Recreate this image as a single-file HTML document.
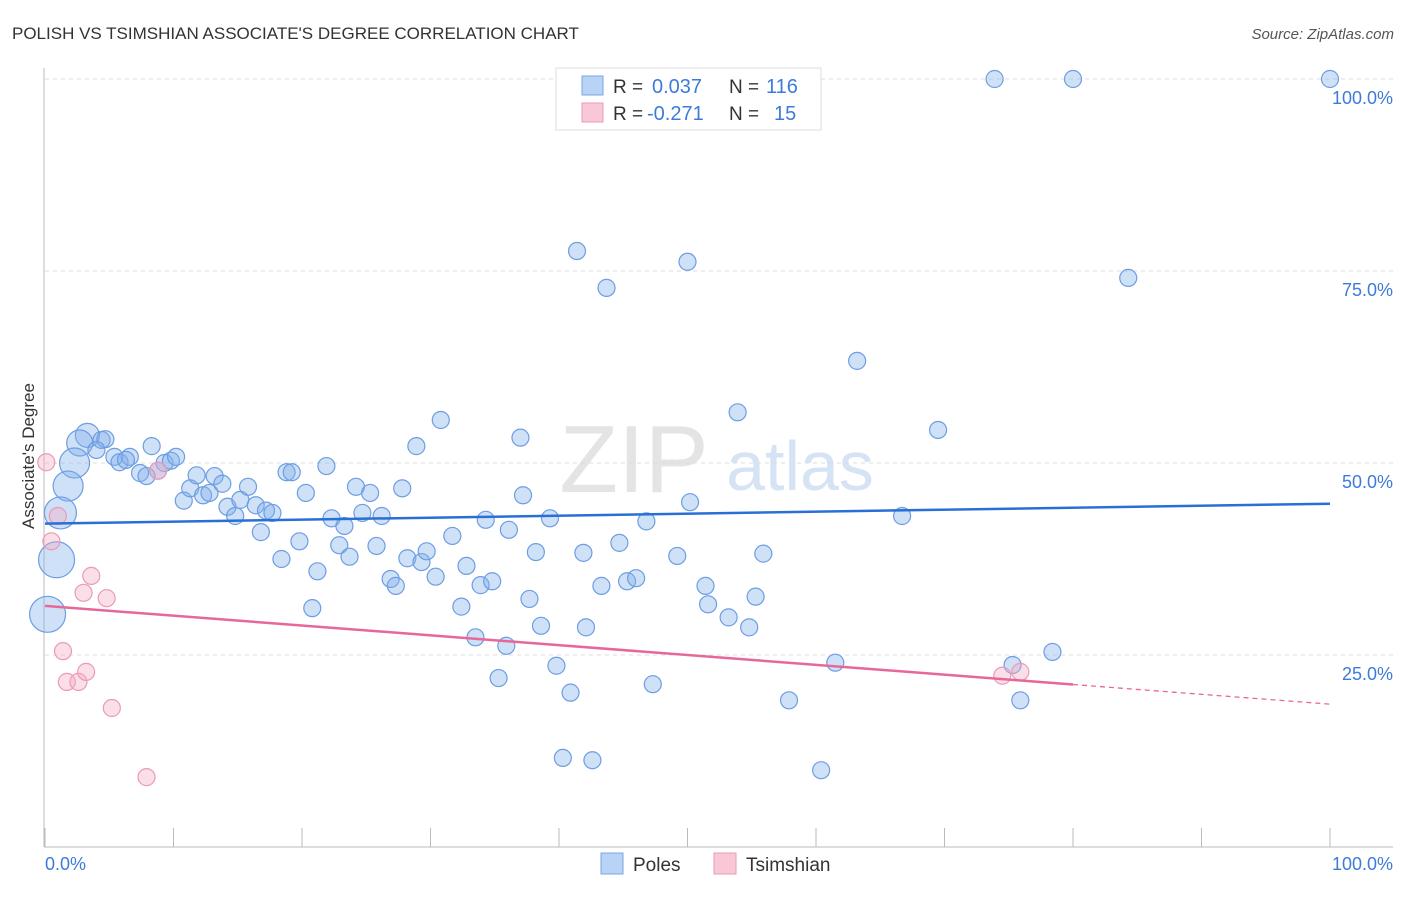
<!DOCTYPE html>
<html><head><meta charset="utf-8"><style>
body{margin:0;background:#fff;font-family:"Liberation Sans",sans-serif;}
svg text{font-family:"Liberation Sans",sans-serif;}
</style></head><body>
<svg id="chart" width="1406" height="892" viewBox="0 0 1406 892" xmlns="http://www.w3.org/2000/svg">
<text x="12" y="39" font-size="17" fill="#333">POLISH VS TSIMSHIAN ASSOCIATE'S DEGREE CORRELATION CHART</text>
<text x="1394" y="39" font-size="15" fill="#555" text-anchor="end" font-style="italic">Source: ZipAtlas.com</text>
<text x="634" y="492" font-size="96" fill="#e4e4e4" font-family="Liberation Serif" text-anchor="middle">ZIP</text>
<text x="800" y="490" font-size="70" fill="#d5e3f5" text-anchor="middle">atlas</text>
<g id="grid"></g><g id="axes"></g><g id="points"></g><g id="trends"></g>
<text transform="translate(34,456) rotate(-90)" font-size="17" fill="#333" text-anchor="middle">Associate's Degree</text>
<text x="45" y="870" font-size="18" fill="#3d7bd9">0.0%</text>
<text x="1393" y="870" font-size="18" fill="#3d7bd9" text-anchor="end">100.0%</text>
<g>
<rect x="556" y="68" width="265" height="62" fill="#fff" stroke="#ddd"/>
<rect x="582" y="76" width="21" height="19" fill="#b8d3f5" stroke="#7aa6e6"/>
<rect x="582" y="103" width="21" height="19" fill="#f9c8d6" stroke="#eb9ab3"/>
<text x="613" y="93" font-size="19" fill="#333">R =</text><text x="652" y="93" font-size="20" fill="#3d7bd9">0.037</text>
<text x="729" y="93" font-size="19" fill="#333">N =</text><text x="766" y="93" font-size="20" fill="#3d7bd9">116</text>
<text x="613" y="120" font-size="19" fill="#333">R =</text><text x="647" y="120" font-size="20" fill="#3d7bd9">-0.271</text>
<text x="729" y="120" font-size="19" fill="#333">N =</text><text x="774" y="120" font-size="20" fill="#3d7bd9">15</text>
</g>
<g>
<rect x="601" y="853" width="22" height="21" fill="#b8d3f5" stroke="#7aa6e6"/>
<text x="633" y="871" font-size="19" fill="#333">Poles</text>
<rect x="714" y="853" width="22" height="21" fill="#f9c8d6" stroke="#eb9ab3"/>
<text x="746" y="871" font-size="19" fill="#333">Tsimshian</text>
</g>
</svg>
<script>
const yTicks=[25,50,75,100];
const yTickLabels=["25.0%","50.0%","75.0%","100.0%"];
const xTicks=[0,10,20,30,40,50,60,70,80,90,100];
const polesX=[3.3,2.7,2.3,1.8,1.2,0.9,0.2,4.4,4.7,4.0,5.4,5.8,6.6,6.3,7.4,7.9,8.3,9.3,9.8,10.2,8.8,10.8,11.3,11.8,12.3,12.8,13.2,13.8,14.2,14.8,15.2,15.8,16.4,16.8,17.2,17.7,18.4,18.8,19.2,20.3,19.8,20.8,21.2,21.9,22.3,22.9,23.3,23.7,24.2,24.7,25.3,25.8,26.2,26.9,27.3,27.8,28.2,28.9,29.3,29.7,30.4,30.8,31.7,32.4,32.8,33.5,33.9,34.3,34.8,35.3,35.9,36.1,37.0,37.2,37.7,38.2,38.6,39.3,39.8,40.3,40.9,41.4,41.9,42.1,42.6,43.3,43.7,44.7,45.3,46.0,46.8,47.3,49.2,50.0,50.2,51.4,51.6,53.2,53.9,54.8,55.3,55.9,57.9,60.4,61.5,63.2,66.7,69.5,73.9,75.3,75.9,78.4,80.0,84.3,100];
const polesY=[53.6,52.6,50.0,47.0,43.5,37.4,30.3,53.0,53.1,51.7,50.8,50.1,50.8,50.4,48.7,48.3,52.2,50.0,50.3,50.8,49.0,45.1,46.7,48.4,45.8,46.1,48.3,47.3,44.3,43.1,45.2,46.9,44.5,41.0,43.8,43.5,37.5,48.8,48.8,46.1,39.8,31.1,35.9,49.6,42.8,39.3,41.8,37.8,46.9,43.5,46.1,39.2,43.1,34.9,34.0,46.7,37.6,52.2,37.1,38.5,35.2,55.6,40.5,31.3,36.6,27.3,34.1,42.6,34.6,22.0,26.2,41.3,53.3,45.8,32.3,38.4,28.8,42.8,23.6,11.6,20.1,77.6,38.3,28.6,11.3,34.0,72.8,39.6,34.6,35.0,42.4,21.2,37.9,76.2,44.9,34.0,31.6,29.9,56.6,28.6,32.6,38.2,19.1,10.0,24.0,63.3,43.1,54.3,100,23.7,19.1,25.4,100,74.1,100];
const polesSize=[12,13,15,15,16,18,18];
const tsimX=[0.1,1.0,0.5,3.6,3.0,4.8,1.4,1.7,2.6,3.2,5.2,7.9,8.8,74.5,75.9];
const tsimY=[50.1,43.1,39.8,35.3,33.1,32.4,25.5,21.5,21.5,22.8,18.1,9.1,49.0,22.3,22.8];
const polesTrend=[42.1,44.7];
const tsimTrend=[31.4,18.6];
const tsimSolidEnd=80;
const NS="http://www.w3.org/2000/svg";
const X0=45,X1=1330,Y0=847,Y100=79;
const sx=v=>X0+(X1-X0)*v/100;
const sy=v=>Y0-(Y0-Y100)*v/100;
function mk(tag,attrs,parent){const e=document.createElementNS(NS,tag);for(const k in attrs)e.setAttribute(k,attrs[k]);document.getElementById(parent).appendChild(e);return e;}
yTicks.forEach((t,i)=>{
 const g=mk('line',{x1:45,x2:1393,y1:sy(t),y2:sy(t),stroke:'#ddd','stroke-dasharray':'4,4'},'grid');
 
 
 const l=mk('text',{x:1393,y:sy(t)+25,'font-size':18,fill:'#3d7bd9','text-anchor':'end'},'grid');
 l.textContent=yTickLabels[i];
 
 
});
const ya=mk('line',{x1:44,x2:44,y1:68,y2:847,stroke:'#bbb'},'axes');


const xa=mk('line',{x1:44,x2:1393,y1:847,y2:847,stroke:'#bbb'},'axes');


xTicks.forEach(t=>{
 const tk=mk('line',{x1:sx(t),x2:sx(t),y1:828,y2:847,stroke:'#bbb'},'axes');
 
 
});
polesX.forEach((x,i)=>{
 const c=mk('circle',{cx:sx(x),cy:sy(polesY[i]),r:i<polesSize.length?polesSize[i]:8.5,fill:'rgba(130,175,235,0.38)',stroke:'#6d9de3','stroke-width':1.2},'points');
 
 
});
tsimX.forEach((x,i)=>{
 const c=mk('circle',{cx:sx(x),cy:sy(tsimY[i]),r:8.5,fill:'rgba(245,170,195,0.38)',stroke:'#ec9ab4','stroke-width':1.2},'points');
 
 
});
const pt=mk('line',{x1:sx(0),y1:sy(polesTrend[0]),x2:sx(100),y2:sy(polesTrend[1]),stroke:'#2a6fd6','stroke-width':2.5},'trends');


const tm=tsimTrend[0]+(tsimTrend[1]-tsimTrend[0])*tsimSolidEnd/100;
const t1=mk('line',{x1:sx(0),y1:sy(tsimTrend[0]),x2:sx(tsimSolidEnd),y2:sy(tm),stroke:'#e8679a','stroke-width':2.5},'trends');


const t2=mk('line',{x1:sx(tsimSolidEnd),y1:sy(tm),x2:sx(100),y2:sy(tsimTrend[1]),stroke:'#e8679a','stroke-width':1.3,'stroke-dasharray':'5,4'},'trends');


</script>
</body></html>
